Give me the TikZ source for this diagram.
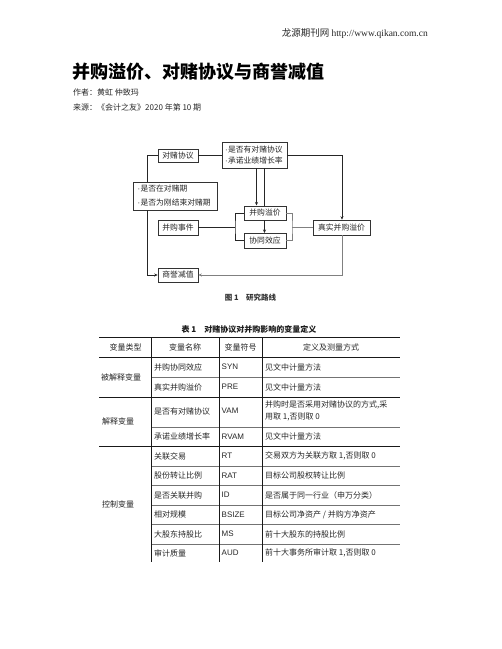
\documentclass[tikz,border=0pt]{standalone}
\usepackage{fontspec}
\setmainfont{Noto Sans CJK SC}
\newfontfamily\urlfont{Liberation Serif}
\newfontfamily\latinfont{Liberation Sans}
\newcommand{\bul}{{\latinfont ·}\hspace{0.5pt}}
\usetikzlibrary{arrows.meta,shadows}
\begin{document}
\begin{tikzpicture}[x=1pt,y=-1pt,
  box/.style={draw=black!80, line width=0.6pt, fill=white, inner sep=1pt,
    font=\fontsize{7.8}{10}\selectfont, text=black!85,
    drop shadow={shadow xshift=0.9pt, shadow yshift=-0.9pt, fill=black!75, opacity=1}},
  listbox/.style={box, align=left},
  conn/.style={line width=0.8pt, draw=black!85},
  gconn/.style={line width=0.6pt, draw=black!50},
  arr/.style={-{Stealth[length=3.5pt,width=3pt]}},
  thickrule/.style={line width=0.8pt, draw=black!90},
  thinrule/.style={line width=0.6pt, draw=black!55},
  cell/.style={font=\fontsize{8}{12}\selectfont, text=black!85, inner sep=0pt},
  sym/.style={font=\latinfont\fontsize{8}{12}\selectfont, text=black!85, inner sep=0pt},
  hdr/.style={font=\fontsize{8}{12}\selectfont, text=black!85, inner sep=0pt}
]
\useasboundingbox (0,0) rectangle (502,649);

% header
\node[anchor=east, inner sep=0pt, font=\fontsize{9.5}{11}\selectfont, text=black!85] (site) at (428,34)
  {龙源期刊网 {\urlfont http://www.qikan.com.cn}};
\node[anchor=west, inner sep=0pt, font=\fontsize{18}{20}\selectfont\bfseries] (title) at (72,72)
  {并购溢价、对赌协议与商誉减值};
\node[anchor=west, inner sep=0pt, font=\fontsize{8}{10}\selectfont, text=black!85] (author) at (73,92)
  {作者：黄虹 仲致玛};
\node[anchor=west, inner sep=0pt, font=\fontsize{8}{10}\selectfont, text=black!85] (source) at (73,107)
  {来源：《会计之友》2020 年第 10 期};

% diagram
\node[box, minimum width=40pt, minimum height=13pt] (dd) at (178,155.5) {对赌协议};
\node[listbox, inner xsep=3pt, text width=59pt, minimum height=26pt, font=\fontsize{7.8}{11}\selectfont] (sf) at (254.5,155)
  {\bul 是否有对赌协议\\\bul 承诺业绩增长率};
\node[listbox, inner xsep=4.5pt, text width=75pt, minimum height=28pt, font=\fontsize{7.8}{14}\selectfont] (zq) at (175,196)
  {\bul 是否在对赌期\\\bul 是否为刚结束对赌期};
\node[box, minimum width=42pt, minimum height=14pt] (yj) at (265,213) {并购溢价};
\node[box, minimum width=42pt, minimum height=15pt] (xt) at (265,240.5) {协同效应};
\node[box, minimum width=40pt, minimum height=15pt] (sj) at (178,227.5) {并购事件};
\node[box, minimum width=57pt, minimum height=15pt] (zs) at (341.5,227.5) {真实并购溢价};
\node[box, minimum width=40pt, minimum height=14pt] (sy) at (178,275) {商誉减值};

\coordinate (ltop) at (147,155.5);
\coordinate (lbot) at (147,275);
\coordinate (rtop) at (342,155);
\coordinate (rbot) at (342,275);
\coordinate (bl) at (235,227.5);
\coordinate (br) at (292,227.5);

\draw[conn] (dd.east) -- (sf.west |- dd.east);
\draw[conn] (dd.west) -- (ltop) -- (ltop |- zq.north);
\draw[conn, arr] (lbot |- zq.south) -- (lbot) -- (sy.west);
\draw[conn, arr] (sf.east |- rtop) -- (rtop) -- (zs.north -| rtop);
\draw[conn, arr] (256.5,168) -- (256.5,205.5);
\draw[conn] (264.5,168) -- (264.5,206);
\draw[conn, arr] (264.5,220) -- (264.5,233);
\draw[conn] (sj.east) -- (bl);
\draw[conn] (yj.west) -| (bl) |- (xt.west);
\draw[gconn] (yj.east) -| (br) |- (xt.east);
\draw[gconn] (br) -- (zs.west);
\draw[gconn, arr] (zs.south -| rbot) -- (rbot) -- (sy.east);

\node[inner sep=0pt, font=\fontsize{7.5}{9}\selectfont\bfseries, text=black!80] (fig) at (250.5,298) {图 1\quad 研究路线};

% table
\node[inner sep=0pt, font=\fontsize{8}{10}\selectfont\bfseries, text=black!90] (tabt) at (249,329) {表 1\quad 对赌协议对并购影响的变量定义};

\draw[thickrule] (99,337) -- (400,337);
\draw[thickrule] (99,357) -- (400,357);
\draw[thickrule] (99,397) -- (400,397);
\draw[thickrule] (99,446) -- (400,446);
\foreach \yy in {377,427,466,485,505,524,544}
  \draw[thinrule] (151,\yy) -- (400,\yy);
\foreach \xx in {151,219,262}
  \draw[thickrule, line width=0.7pt] (\xx,337) -- (\xx,562);

\node[hdr] (h1) at (125.5,347) {变量类型};
\node[hdr] (h2) at (185,347) {变量名称};
\node[hdr] (h3) at (240.5,347) {变量符号};
\node[hdr] (h4) at (331,347) {定义及测量方式};

\node[cell] (g1) at (121,377) {被解释变量};
\node[cell, anchor=west] (g2) at (102,421.5) {解释变量};
\node[cell, anchor=west] (g3) at (102,504) {控制变量};

\node[cell, anchor=west] (a1) at (154,367) {并购协同效应};
\node[sym, anchor=west] (b1) at (221.5,367) {SYN};
\node[cell, anchor=west] (c1) at (265,367) {见文中计量方法};

\node[cell, anchor=west] (a2) at (154,387) {真实并购溢价};
\node[sym, anchor=west] (b2) at (221.5,387) {PRE};
\node[cell, anchor=west] (c2) at (265,387) {见文中计量方法};

\node[cell, anchor=west] (a3) at (154,411) {是否有对赌协议};
\node[sym, anchor=west] (b3) at (221.5,411) {VAM};
\node[cell, anchor=west, align=left] (c3) at (265,411) {并购时是否采用对赌协议的方式,采\\用取 1,否则取 0};

\node[cell, anchor=west] (a4) at (154,436.5) {承诺业绩增长率};
\node[sym, anchor=west] (b4) at (221.5,436.5) {RVAM};
\node[cell, anchor=west] (c4) at (265,436.5) {见文中计量方法};

\node[cell, anchor=west] (a5) at (154,456) {关联交易};
\node[sym, anchor=west] (b5) at (221.5,456) {RT};
\node[cell, anchor=west] (c5) at (265,456) {交易双方为关联方取 1,否则取 0};

\node[cell, anchor=west] (a6) at (154,475.5) {股份转让比例};
\node[sym, anchor=west] (b6) at (221.5,475.5) {RAT};
\node[cell, anchor=west] (c6) at (265,475.5) {目标公司股权转让比例};

\node[cell, anchor=west] (a7) at (154,495) {是否关联并购};
\node[sym, anchor=west] (b7) at (221.5,495) {ID};
\node[cell, anchor=west] (c7) at (265,495) {是否属于同一行业（申万分类）};

\node[cell, anchor=west] (a8) at (154,514.5) {相对规模};
\node[sym, anchor=west] (b8) at (221.5,514.5) {BSIZE};
\node[cell, anchor=west] (c8) at (265,514.5) {目标公司净资产 / 并购方净资产};

\node[cell, anchor=west] (a9) at (154,534) {大股东持股比};
\node[sym, anchor=west] (b9) at (221.5,534) {MS};
\node[cell, anchor=west] (c9) at (265,534) {前十大股东的持股比例};

\node[cell, anchor=west] (a10) at (154,553) {审计质量};
\node[sym, anchor=west] (b10) at (221.5,553) {AUD};
\node[cell, anchor=west] (c10) at (265,553) {前十大事务所审计取 1,否则取 0};
\end{tikzpicture}
\end{document}
